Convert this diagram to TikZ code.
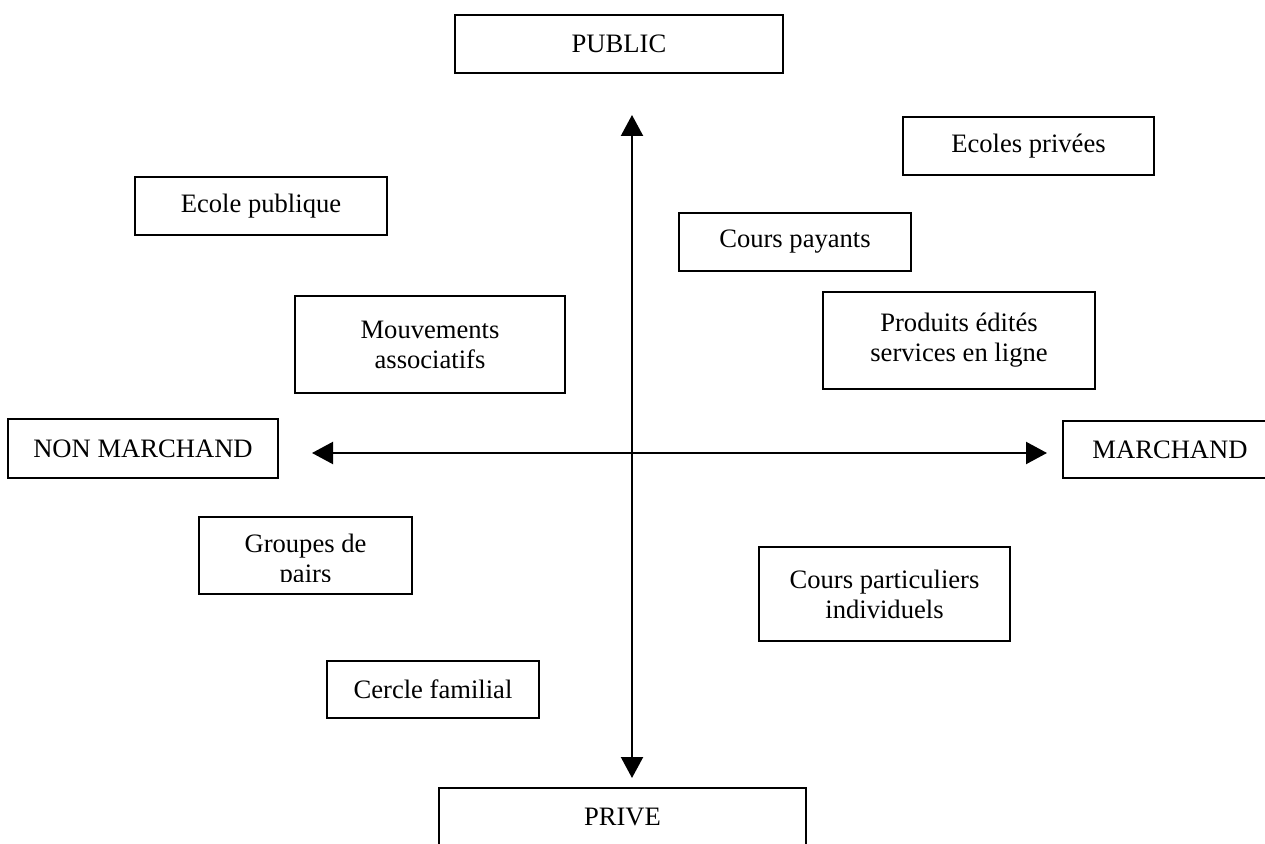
\documentclass[tikz,border=0pt]{standalone}
\usepackage{fontspec}
\setmainfont{Liberation Serif}
\usetikzlibrary{arrows.meta}

\begin{document}
\begin{tikzpicture}[x=0.5pt, y=-0.5pt, >={Triangle[length=10.5pt, width=11pt]},
  cadre/.style={draw, line width=0.9pt, inner sep=0pt, align=center,
    font=\fontsize{13.3}{15}\selectfont, minimum height=29pt},
  axe/.style={line width=1.1pt, <->}]
  \useasboundingbox (0,0) rectangle (1265,844);
  % axis labels
  \node[cadre, minimum width=164pt] (public) at (619,44) {PUBLIC};
  \node[cadre, minimum width=183.5pt] (prive) at (622.5,817) {PRIVE};
  \node[cadre, minimum width=135pt, minimum height=29.5pt] (nonmarch) at (143,448.5) {NON MARCHAND};
  \node[cadre, minimum width=107pt, minimum height=28.5pt] (march) at (1170,449.5) {MARCHAND};
  % axes
  \coordinate (haut) at (632,115);
  \coordinate (bas) at (632,778);
  \coordinate (gauche) at (312,453);
  \coordinate (droite) at (1047,453);
  \draw[axe] (haut) -- (bas);
  \draw[axe] (gauche) -- (droite);
  % upper left
  \node[cadre, minimum width=126pt] (ecolepub) at (261,206) {Ecole publique};
  \node[cadre, minimum width=135pt, minimum height=48.5pt] (mouv) at (430,344.5) {Mouvements\\associatifs};
  % upper right
  \node[cadre, minimum width=125.5pt] (ecolepriv) at (1028.5,146) {Ecoles privées};
  \node[cadre, minimum width=116pt] (payants) at (795,242) {Cours payants};
  \node[cadre, minimum width=136pt, minimum height=48.5pt] (produits) at (959,340.5) {Produits édités\\services en ligne};
  % lower left
  \node[cadre, minimum width=106.5pt, minimum height=38.5pt] (pairs) at (305.5,555.5) {};
  \begin{scope}
    \clip (199,517) rectangle (412,582);
    \node[align=center, inner sep=0pt, font=\fontsize{13.3}{15}\selectfont] (pairstexte) at (305.5,561) {Groupes de\\pairs};
  \end{scope}
  \node[cadre, minimum width=106pt, minimum height=28.5pt] (familial) at (433,689.5) {Cercle familial};
  % lower right
  \node[cadre, minimum width=125.5pt, minimum height=47pt] (particuliers) at (884.5,594) {Cours particuliers\\individuels};
\end{tikzpicture}
\end{document}
